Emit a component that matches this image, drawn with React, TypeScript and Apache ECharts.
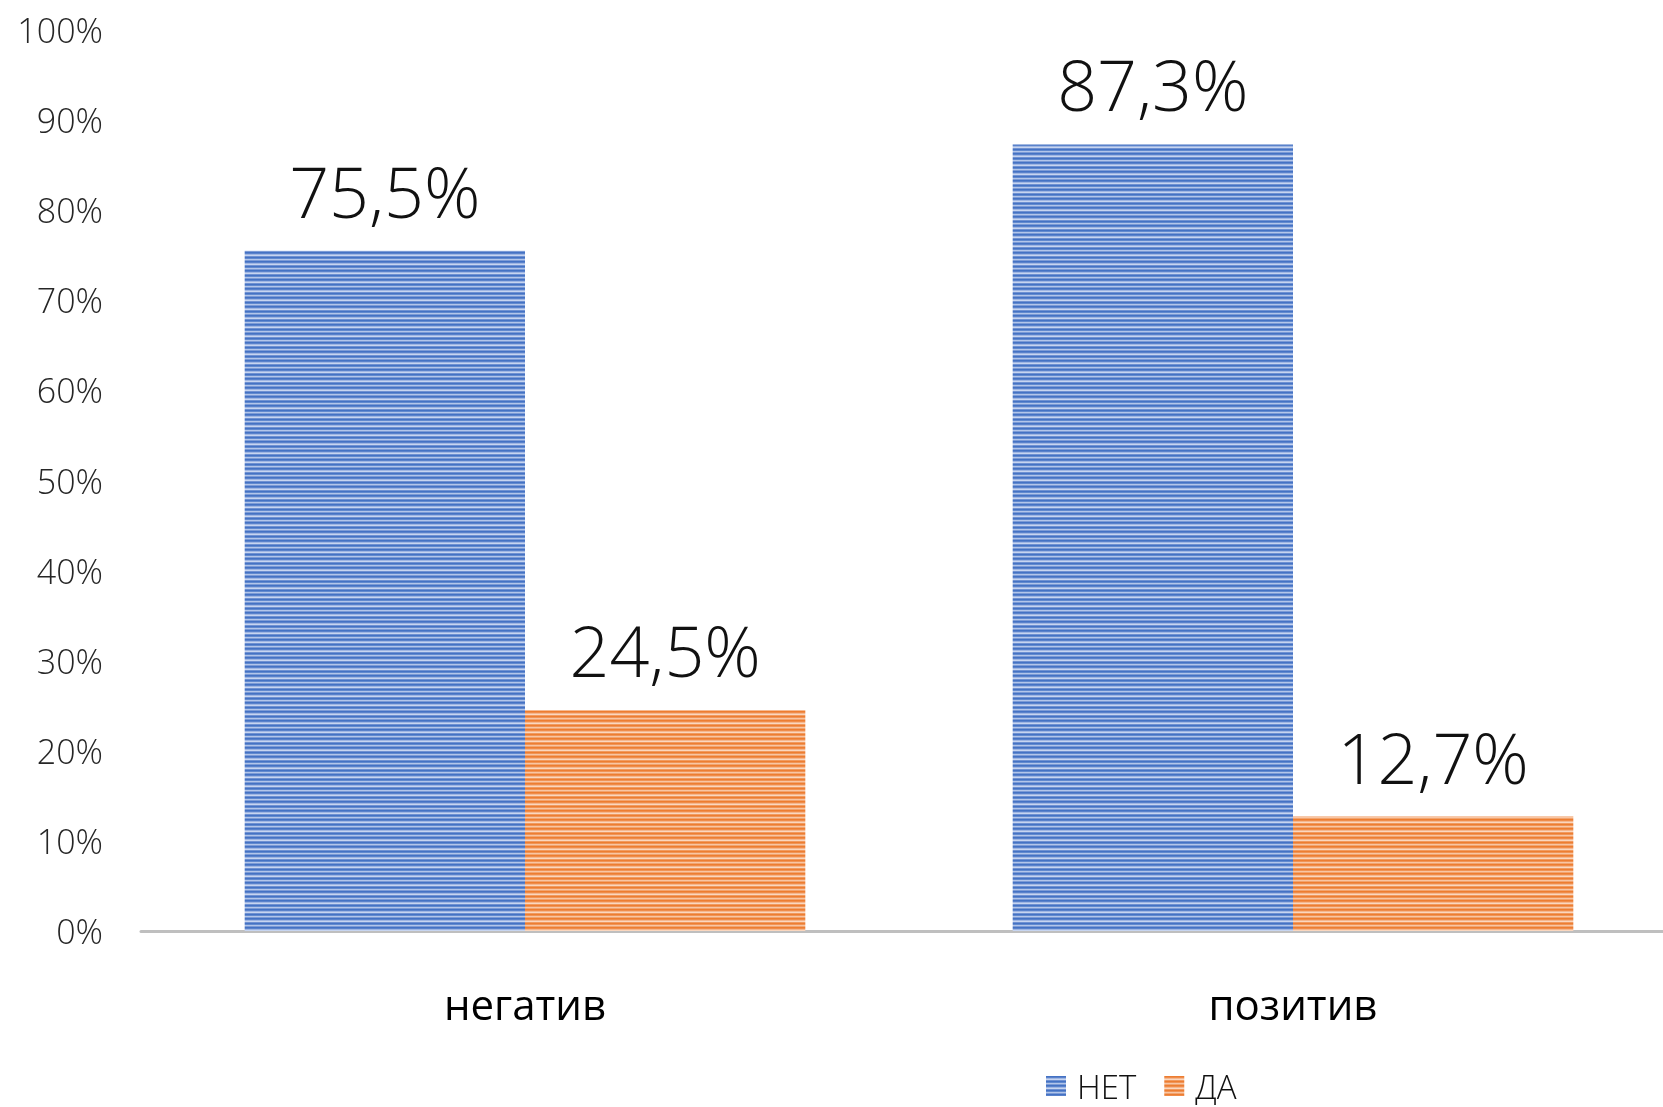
import React, { useEffect, useRef } from "react";
import * as echarts from "echarts";

const categories = ["негатив", "позитив"];
const seriesNames = ["НЕТ", "ДА"];
const netValues = [75.5, 87.3];
const daValues = [24.5, 12.7];
const yTicks = [0, 10, 20, 30, 40, 50, 60, 70, 80, 90, 100];

const FONT = "'Open Sans', 'Noto Sans', sans-serif";

function makeStripes(rows: string[]) {
  const c = document.createElement("canvas");
  c.width = 4;
  c.height = rows.length;
  const ctx = c.getContext("2d")!;
  rows.forEach((col, i) => {
    ctx.fillStyle = col;
    ctx.fillRect(0, i, 4, 1);
  });
  return { image: c, repeat: "repeat" as const, imageWidth: 4, imageHeight: rows.length };
}

export default function App() {
  const ref = useRef<HTMLDivElement>(null);
  useEffect(() => {
    document.body.style.margin = "0";
    document.body.style.overflow = "hidden";
    const chart = echarts.init(ref.current!, undefined, { renderer: "svg" });
    const blue = makeStripes(["#4472C4", "#5A82CB", "#9FB6E3", "#C7D5F0", "#6F91D2", "#4472C4", "#628ACF", "#B3C6EA", "#7C9BD6"]);
    const orange = makeStripes(["#ED7D31", "#EF8C4A", "#F5B78E", "#FAD7BF", "#F19A5F", "#ED7D31", "#F09456", "#F8C6A4", "#F2A46F"]);
    const labelStyle = {
      show: true,
      position: "top" as const,
      distance: 25,
      fontFamily: FONT,
      fontWeight: 300,
      fontSize: 70,
      lineHeight: 70,
      color: "#111",
      formatter: (p: any) => p.value.toFixed(1).replace(".", ",") + "%",
    };
    chart.setOption({
      animation: false,
      grid: { left: 141, right: 0, top: 30, bottom: 176, containLabel: false },
      legend: {
        data: seriesNames,
        left: 1041,
        top: 1064,
        itemWidth: 20,
        itemHeight: 20,
        itemGap: 28,
        icon: "rect",
        textStyle: { fontFamily: FONT, fontWeight: 300, fontSize: 33, lineHeight: 34, color: "#111", padding: [0, 0, 0, 6] },
      },
      xAxis: {
        type: "category",
        data: categories,
        axisLine: { lineStyle: { color: "#BFBFBF", width: 3 } },
        axisTick: { show: false },
        axisLabel: { margin: 50, fontFamily: FONT, fontSize: 42, lineHeight: 44, color: "#000" },
      },
      yAxis: {
        type: "value",
        min: 0,
        max: 100,
        interval: 10,
        splitLine: { show: false },
        axisLine: { show: false },
        axisTick: { show: false },
        axisLabel: {
          margin: 38,
          fontFamily: FONT,
          fontWeight: 300,
          fontSize: 34,
          color: "#262626",
          formatter: (v: number) => (yTicks.includes(v) ? v + "%" : ""),
        },
      },
      series: [
        {
          name: seriesNames[0],
          type: "bar",
          data: netValues,
          barGap: "0%",
          barCategoryGap: "27%",
          itemStyle: { color: blue },
          label: labelStyle,
        },
        {
          name: seriesNames[1],
          type: "bar",
          data: daValues,
          barGap: "0%",
          barCategoryGap: "27%",
          itemStyle: { color: orange },
          label: labelStyle,
        },
      ],
    });
    return () => chart.dispose();
  }, []);
  return <div ref={ref} style={{ position: "fixed", left: 0, top: 0, width: 1677, height: 1107 }} />;
}
